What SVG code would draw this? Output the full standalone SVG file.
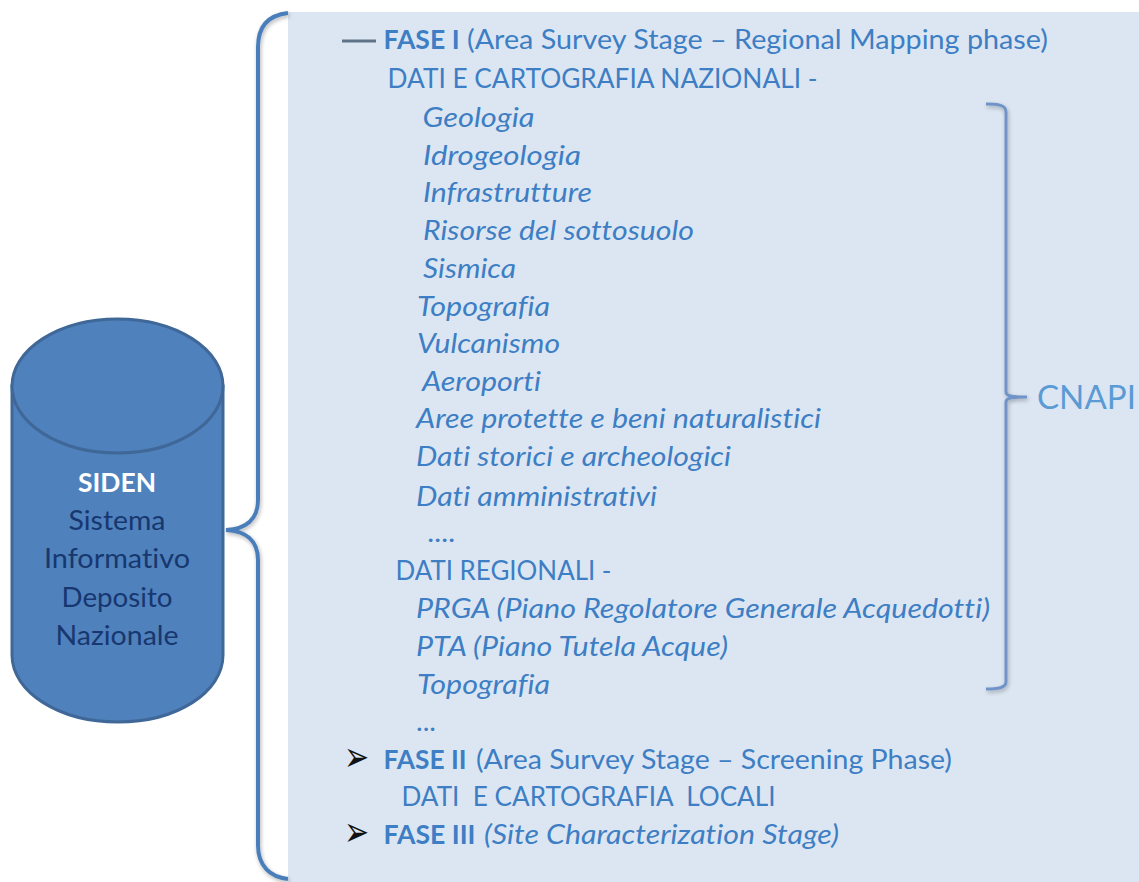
<svg xmlns="http://www.w3.org/2000/svg" width="1139" height="882" viewBox="0 0 1139 882">
<defs>
<filter id="sh" x="-20%" y="-5%" width="140%" height="110%"><feGaussianBlur in="SourceAlpha" stdDeviation="2"/><feOffset dx="1" dy="2"/><feComponentTransfer><feFuncA type="linear" slope="0.3"/></feComponentTransfer><feMerge><feMergeNode/><feMergeNode in="SourceGraphic"/></feMerge></filter>
</defs>
<style>
text{font-family:"Lato","Open Sans","Liberation Sans",sans-serif;font-size:27px;fill:#3d7ec4;font-variant-ligatures:none}
.b{font-weight:700}
.i{font-style:italic}
.c{font-size:27px;fill:#17376f;text-anchor:middle}
.w{fill:#fff;font-weight:700;font-size:27px;text-anchor:middle}
.ar{font-family:"DejaVu Sans",sans-serif;font-size:24px;fill:#111}
</style>
<rect id="panel" x="288" y="12" width="851" height="870" fill="#dce6f2"/>
<g id="connectors" fill="none">
<path d="M288 13C270 15 258 25 258 47V500C258 520 245 529 226 530C245 531 258 540 258 560V845C258 866 270 877 288 879" stroke="#4a7ebb" stroke-width="4" filter="url(#sh)"/>
<path d="M986 104C998 104 1006 105 1006 112V392C1006 395 1008 397 1027 397C1008 397 1006 399 1006 402V682C1006 688 998 689 986 689" stroke="#6f94c8" stroke-width="3" filter="url(#sh)"/>
<line x1="342" y1="41" x2="376" y2="41" stroke="#5f7488" stroke-width="3"/>
</g>
<g id="siden">
<path d="M12 386V655C12 692 59 722 118 722S223 692 223 655V386Z" fill="#4f81bd" stroke="#3f6797" stroke-width="3"/>
<ellipse cx="117.500" cy="386" rx="105.500" ry="67" fill="#4f81bd" stroke="#3f6797" stroke-width="3"/>
<text class="w" x="117" y="492" textLength="78" lengthAdjust="spacingAndGlyphs">SIDEN</text>
<text class="c" x="117" y="530" textLength="97" lengthAdjust="spacingAndGlyphs">Sistema</text>
<text class="c" x="117" y="568" textLength="146" lengthAdjust="spacingAndGlyphs">Informativo</text>
<text class="c" x="117" y="607" textLength="111" lengthAdjust="spacingAndGlyphs">Deposito</text>
<text class="c" x="117" y="645" textLength="123" lengthAdjust="spacingAndGlyphs">Nazionale</text>
</g>
<g id="fase1">
<text class="b" x="383.500" y="49" textLength="76" lengthAdjust="spacingAndGlyphs">FASE I</text>
<text x="467" y="49" textLength="581" lengthAdjust="spacingAndGlyphs">(Area Survey Stage – Regional Mapping phase)</text>
<text x="387.500" y="88" textLength="430" lengthAdjust="spacingAndGlyphs">DATI E CARTOGRAFIA NAZIONALI -</text>
<text class="i" x="422.500" y="127" textLength="112" lengthAdjust="spacingAndGlyphs">Geologia</text>
<text class="i" x="423" y="165" textLength="158" lengthAdjust="spacingAndGlyphs">Idrogeologia</text>
<text class="i" x="423" y="202" textLength="169" lengthAdjust="spacingAndGlyphs">Infrastrutture</text>
<text class="i" x="423" y="240" textLength="271" lengthAdjust="spacingAndGlyphs">Risorse del sottosuolo</text>
<text class="i" x="423" y="278" textLength="93" lengthAdjust="spacingAndGlyphs">Sismica</text>
<text class="i" x="417" y="316" textLength="133" lengthAdjust="spacingAndGlyphs">Topografia</text>
<text class="i" x="417" y="353" textLength="143" lengthAdjust="spacingAndGlyphs">Vulcanismo</text>
<text class="i" x="422" y="391" textLength="119" lengthAdjust="spacingAndGlyphs">Aeroporti</text>
<text class="i" x="416" y="428" textLength="405" lengthAdjust="spacingAndGlyphs">Aree protette e beni naturalistici</text>
<text class="i" x="416" y="466" textLength="315" lengthAdjust="spacingAndGlyphs">Dati storici e archeologici</text>
<text class="i" x="416" y="506" textLength="241" lengthAdjust="spacingAndGlyphs">Dati amministrativi</text>
<text class="i" x="428" y="542" textLength="28" lengthAdjust="spacingAndGlyphs">....</text>
<text x="395.500" y="580" textLength="216" lengthAdjust="spacingAndGlyphs">DATI REGIONALI -</text>
<text class="i" x="416" y="618" textLength="574" lengthAdjust="spacingAndGlyphs">PRGA (Piano Regolatore Generale Acquedotti)</text>
<text class="i" x="416" y="656" textLength="312" lengthAdjust="spacingAndGlyphs">PTA (Piano Tutela Acque)</text>
<text class="i" x="417" y="694" textLength="133" lengthAdjust="spacingAndGlyphs">Topografia</text>
<text x="416" y="731" textLength="20" lengthAdjust="spacingAndGlyphs">...</text>
</g>
<g id="fase2">
<text class="ar" transform="translate(344 771) scale(1.25 1.75)">➢</text>
<text class="b" x="383.500" y="769" textLength="83" lengthAdjust="spacingAndGlyphs">FASE II</text>
<text x="476" y="769" textLength="476" lengthAdjust="spacingAndGlyphs">(Area Survey Stage – Screening Phase)</text>
<text x="401.500" y="806" textLength="374" lengthAdjust="spacingAndGlyphs" xml:space="preserve">DATI  E CARTOGRAFIA  LOCALI</text>
</g>
<g id="fase3">
<text class="ar" transform="translate(344 846) scale(1.25 1.75)">➢</text>
<text class="b" x="383.500" y="844" textLength="92" lengthAdjust="spacingAndGlyphs">FASE III</text>
<text class="i" x="484" y="844" textLength="355" lengthAdjust="spacingAndGlyphs">(Site Characterization Stage)</text>
</g>
<g id="cnapi">
<text x="1037" y="409" style="font-size:32px;fill:#5b9bd5" textLength="99" lengthAdjust="spacingAndGlyphs">CNAPI</text>
</g>
</svg>
